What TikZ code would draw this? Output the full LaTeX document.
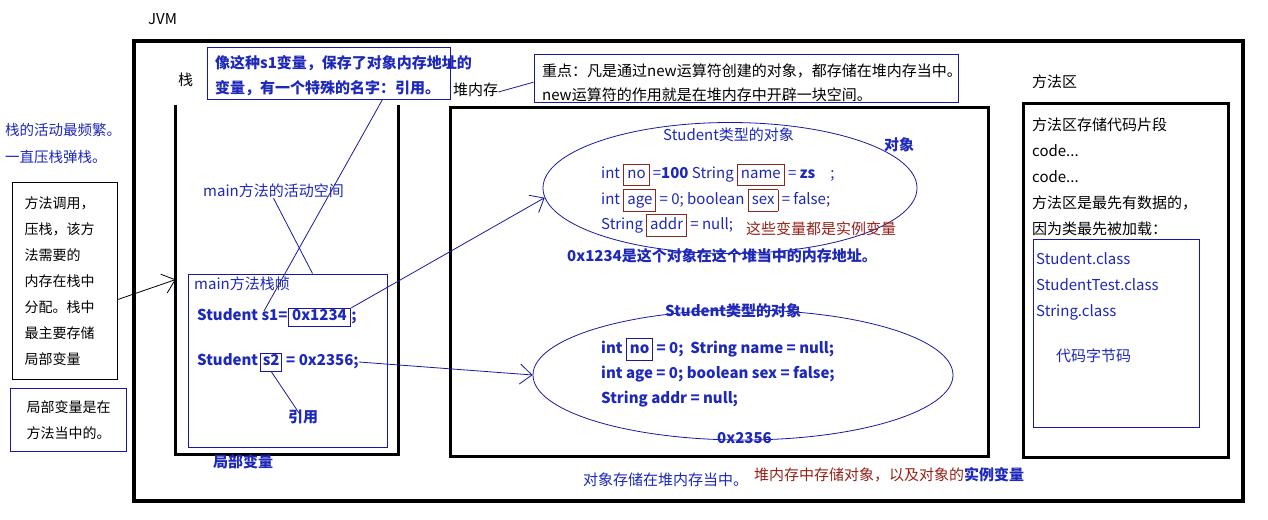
\documentclass[tikz,border=0pt]{standalone}
\usepackage{fontspec}
\setmainfont{Noto Sans CJK SC}
\usetikzlibrary{positioning,arrows.meta,shapes.geometric,fit,calc}
\definecolor{txtblue}{RGB}{30,40,185}
\definecolor{lineblue}{RGB}{25,25,160}
\definecolor{boxred}{RGB}{135,40,30}
\definecolor{txtred}{RGB}{150,35,25}
\newcommand{\fs}{\fontsize{15}{26}\selectfont}
\newcommand{\markbox}[2]{{\setlength{\fboxsep}{3pt}\setlength{\fboxrule}{0.9pt}\color{#1}\fbox{\color{txtblue}\vphantom{Ag}#2}}}
\tikzset{
    heavy/.style={draw=black, line width=3.5pt},
    wall/.style={draw=black, line width=3pt},
    thinbox/.style={draw=lineblue, line width=1pt, inner sep=0pt},
    blkbox/.style={draw=black, line width=1.2pt},
    lbl/.style={inner sep=0pt, anchor=west, text height=0.85em, text depth=0.15em, font=\fs},
    bluetxt/.style={lbl, text=txtblue},
    boldtxt/.style={bluetxt, font=\fs\bfseries},
    block/.style={inner sep=0pt, anchor=base west, align=left, font=\fs},
    wire/.style={draw=lineblue, line width=0.8pt},
    arr/.style={wire, -{Straight Barb[length=12pt,width=20pt]}},
    addrbox/.style={boldtxt, anchor=center, draw=lineblue, line width=0.9pt, inner sep=4pt}
}
\begin{document}
\begin{tikzpicture}[x=1pt,y=-1pt]
\path[use as bounding box, fill=white] (0,0) rectangle (1268,519);
% JVM frame
\node[lbl] (jvmlbl) at (148,21) {JVM};
\node[heavy, fit={(134,41) (1243,501)}, inner sep=0pt] (jvm) {};

% stack
\node[lbl] (stacklbl) at (178,82) {栈};
\node[fit={(176,105) (398,454)}, inner sep=0pt] (stack) {};
\draw[wall] (stack.north west) -- (stack.south west) -- (stack.south east) -- (stack.north east);
\node[block, text=txtblue, font=\fontsize{14.5}{27}\selectfont] (stacknote) at (5,162) {栈的活动最频繁。\\一直压栈弹栈。};
\node[blkbox, font=\fontsize{14}{26}\selectfont, align=left, anchor=north west, minimum width=105pt, minimum height=197pt, inner xsep=12pt, text width=81pt] (callbox) at (12,182) {方法调用，\\压栈，该方\\法需要的\\内存在栈中\\分配。栈中\\最主要存储\\局部变量};
\node[draw=lineblue, line width=1pt, font=\fontsize{14}{26}\selectfont, align=left, anchor=north west, minimum width=116pt, minimum height=63pt, inner xsep=16pt, text width=84pt] (localbox) at (10,388) {局部变量是在\\方法当中的。};
\draw[arr, draw=black] (callbox.-19) -- (stack.west);

% note on references
\node[thinbox, fit={(207,48) (450,99)}] (refbox) {};
\node[block, text=txtblue, font=\fontsize{15}{25}\selectfont\bfseries] (reftext) at (215,93.5) {像这种s1变量，保存了对象内存地址的\\变量，有一个特殊的名字：引用。};

% main frame
\node[bluetxt] (actlbl) at (203,193) {main方法的活动空间};
\node[thinbox, fit={(188,274) (387,447)}] (frame) {};
\node[bluetxt] (framelbl) at (194,286) {main方法栈帧};
\node[boldtxt] (s1type) at (197,317) {Student s1=};
\node[addrbox, right=0pt of s1type] (s1addr) {0x1234};
\node[boldtxt, right=0pt of s1addr] (s1semi) {;};
\node[boldtxt] (s2type) at (197,362) {Student};
\node[addrbox, inner xsep=2pt, right=2pt of s2type] (s2name) {s2};
\node[boldtxt, right=4pt of s2name] (s2rest) {= 0x2356;};
\node[boldtxt] (yinyong) at (288,419) {引用};
\node[boldtxt] (locallbl) at (213,464) {局部变量};
\coordinate (s1ref) at (264,311);
\draw[wire] (actlbl.south) -- ($(frame.north)+(25,0)$);
\draw[wire] ($(refbox.south)+(54,0)$) -- (s1ref);
\draw[wire] (s2name.south) -- (yinyong.125);

% heap
\node[lbl] (heaplbl) at (453,92) {堆内存};
\node[thinbox, fit={(534,55) (958,102)}] (keybox) {};
\node[block, font=\fontsize{15}{24}\selectfont] (keytext) at (542,100.5) {重点：凡是通过new运算符创建的对象，都存储在堆内存当中。\\new运算符的作用就是在堆内存中开辟一块空间。};
\draw[wire] (heaplbl.east) -- (keybox.181);
\node[heavy, line width=3pt, fit={(450,107) (988,456)}, inner sep=0pt] (heap) {};

% first object
\node[ellipse, draw=lineblue, line width=0.8pt, minimum width=374pt, minimum height=131pt, inner sep=0pt] (objA) at (730,188) {};
\node[bluetxt] (objAlbl) at (663,137) {Student类型的对象};
\node[boldtxt] (objAtag) at (884,147) {对象};
\node[block, text=txtblue, font=\fontsize{15}{25.5}\selectfont] (objAbody) at (601,229.5) {int \markbox{boxred}{no} =\textbf{100} String \markbox{boxred}{name} = \textbf{zs}\quad;\\int \markbox{boxred}{age} = 0; boolean \markbox{boxred}{sex} = false;\\String \markbox{boxred}{addr} = null;};
\node[lbl, text=txtred] (instlbl) at (746,231) {这些变量都是实例变量};
\node[boldtxt] (addrnote) at (567,258) {0x1234是这个对象在这个堆当中的内存地址。};
\draw[arr] (s1addr.16) -- (objA.183);

% second object
\node[ellipse, draw=lineblue, line width=0.8pt, minimum width=420pt, minimum height=130pt, inner sep=0pt] (objB) at (743,375) {};
\node[boldtxt] (objBlbl) at (665,313) {Student类型的对象};
\node[block, text=txtblue, font=\fontsize{15}{25}\selectfont\bfseries] (objBbody) at (601,403.5) {int \markbox{lineblue}{no} = 0;\ \ String name = null;\\int age = 0; boolean sex = false;\\String addr = null;};
\node[boldtxt] (objBaddr) at (717,440) {0x2356};
\draw[arr] (s2rest.east) -- (objB.west);

% heap notes
\node[bluetxt] (heapnote) at (583,482) {对象存储在堆内存当中。};
\node[lbl, text=txtblue] (heapnote2) at (754,477) {{\color{txtred}堆内存中存储对象，以及对象的}\textbf{实例变量}};

% method area
\node[lbl] (methlbl) at (1032,84) {方法区};
\node[heavy, line width=3pt, fit={(1023,103) (1228,457)}, inner sep=0pt] (method) {};
\node[block] (methtext) at (1032,234.5) {方法区存储代码片段\\code...\\code...\\方法区是最先有数据的，\\因为类最先被加载：};
\node[thinbox, fit={(1033,239) (1199,427)}] (classbox) {};
\node[block, text=txtblue] (classes) at (1036,316) {Student.class\\StudentTest.class\\String.class};
\node[bluetxt] (bytecode) at (1056,358) {代码字节码};
\end{tikzpicture}
\end{document}
